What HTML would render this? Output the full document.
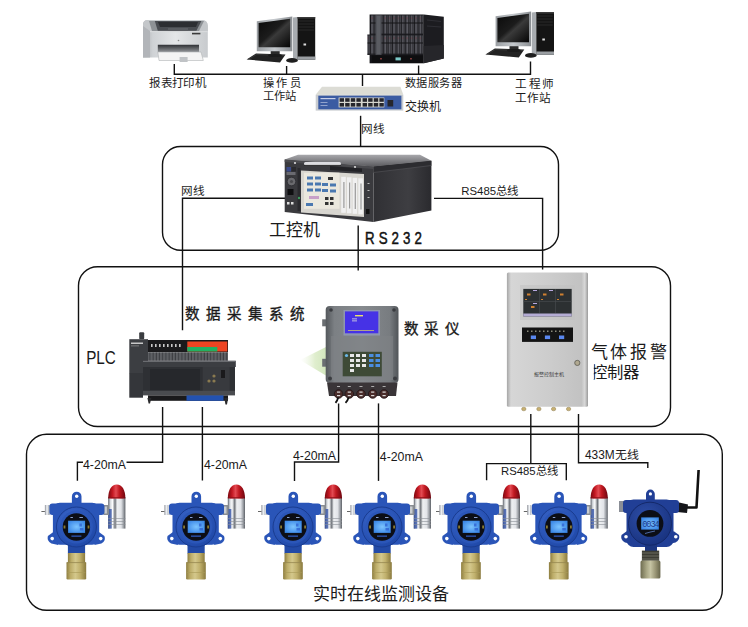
<!DOCTYPE html>
<html lang="zh-CN">
<head>
<meta charset="utf-8">
<style>
html,body{margin:0;padding:0;background:#fff;}
body{width:748px;height:627px;overflow:hidden;position:relative;font-family:"Liberation Sans",sans-serif;}
svg{position:absolute;left:0;top:0;}
.t{font-family:"Liberation Sans",sans-serif;fill:#1a1a1a;}
.s{font-family:"Liberation Serif",serif;fill:#111;font-weight:bold;}
</style>
</head>
<body>
<svg width="748" height="627" viewBox="0 0 748 627">
<defs>
  <linearGradient id="silver" x1="0" x2="1" y1="0" y2="0">
    <stop offset="0" stop-color="#7d8088"/><stop offset="0.2" stop-color="#c8ccd2"/>
    <stop offset="0.45" stop-color="#f4f6f8"/><stop offset="0.7" stop-color="#b4b8be"/>
    <stop offset="0.85" stop-color="#e0e2e6"/><stop offset="1" stop-color="#80848a"/>
  </linearGradient>
  <linearGradient id="brass" x1="0" x2="1" y1="0" y2="0">
    <stop offset="0" stop-color="#8e7e40"/><stop offset="0.2" stop-color="#bcac68"/>
    <stop offset="0.45" stop-color="#d4c88c"/><stop offset="0.7" stop-color="#c0b06c"/>
    <stop offset="1" stop-color="#8a7a3e"/>
  </linearGradient>
  <linearGradient id="brass2" x1="0" x2="1" y1="0" y2="0">
    <stop offset="0" stop-color="#6e6c50"/><stop offset="0.3" stop-color="#a8a684"/>
    <stop offset="0.5" stop-color="#c6c4a4"/><stop offset="0.75" stop-color="#9a9676"/>
    <stop offset="1" stop-color="#66644a"/>
  </linearGradient>
  <linearGradient id="chrome" x1="0" x2="1" y1="0" y2="0">
    <stop offset="0" stop-color="#5a5e66"/><stop offset="0.12" stop-color="#d4d8dc"/>
    <stop offset="0.25" stop-color="#fbfcfd"/><stop offset="0.4" stop-color="#70747a"/>
    <stop offset="0.52" stop-color="#eef0f2"/><stop offset="0.75" stop-color="#e2e4e8"/>
    <stop offset="0.9" stop-color="#989ca2"/><stop offset="1" stop-color="#5c6066"/>
  </linearGradient>
  <linearGradient id="redl" x1="0" x2="1" y1="0" y2="0">
    <stop offset="0" stop-color="#7a0810"/><stop offset="0.25" stop-color="#c41822"/>
    <stop offset="0.45" stop-color="#e24a52"/><stop offset="0.65" stop-color="#c01820"/>
    <stop offset="1" stop-color="#6e0610"/>
  </linearGradient>
  <radialGradient id="red" cx="0.4" cy="0.35" r="0.7">
    <stop offset="0" stop-color="#ff6a6a"/><stop offset="0.35" stop-color="#e0141c"/>
    <stop offset="1" stop-color="#8a0008"/>
  </radialGradient>
  <radialGradient id="lcd" cx="0.5" cy="0.5" r="0.6">
    <stop offset="0" stop-color="#7cc4ff"/><stop offset="1" stop-color="#3a86e6"/>
  </radialGradient>
  <radialGradient id="lid" cx="0.4" cy="0.35" r="0.7">
    <stop offset="0" stop-color="#3e6ad0"/><stop offset="1" stop-color="#1e47a6"/>
  </radialGradient>
  <radialGradient id="lid2" cx="0.4" cy="0.35" r="0.7">
    <stop offset="0" stop-color="#2e4ea8"/><stop offset="1" stop-color="#18327e"/>
  </radialGradient>
  
  <linearGradient id="mon" x1="0" x2="1" y1="0" y2="1">
    <stop offset="0" stop-color="#0a0a0a"/><stop offset="0.45" stop-color="#1c1c1c"/>
    <stop offset="0.55" stop-color="#3a3a3a"/><stop offset="1" stop-color="#050505"/>
  </linearGradient>
  <linearGradient id="bezel" x1="0" x2="1" y1="0" y2="0">
    <stop offset="0" stop-color="#9a9ea2"/><stop offset="0.5" stop-color="#c4c8cc"/><stop offset="1" stop-color="#8a8e92"/>
  </linearGradient>
  <linearGradient id="ptop" x1="0" x2="0" y1="0" y2="1">
    <stop offset="0" stop-color="#e8eaec"/><stop offset="1" stop-color="#c6c9cc"/>
  </linearGradient>
  <linearGradient id="pfront" x1="0" x2="1" y1="0" y2="0">
    <stop offset="0" stop-color="#a8abae"/><stop offset="0.15" stop-color="#cfd2d5"/>
    <stop offset="0.5" stop-color="#e4e6e8"/><stop offset="1" stop-color="#c8cbce"/>
  </linearGradient>
  <linearGradient id="ctrl" x1="0" x2="1" y1="0" y2="0">
    <stop offset="0" stop-color="#a6a6a6"/><stop offset="0.05" stop-color="#d6d6d6"/>
    <stop offset="0.5" stop-color="#cdcdcd"/><stop offset="0.92" stop-color="#c2c2c2"/>
    <stop offset="0.96" stop-color="#d8d8d8"/><stop offset="1" stop-color="#9a9a9a"/>
  </linearGradient>
  <linearGradient id="ipctop" x1="0" x2="0" y1="0" y2="1">
    <stop offset="0" stop-color="#a8a8ac"/><stop offset="1" stop-color="#5a5a5e"/>
  </linearGradient>
  <linearGradient id="ipcside" x1="0" x2="1" y1="0" y2="0">
    <stop offset="0" stop-color="#303034"/><stop offset="0.6" stop-color="#3e3e42"/><stop offset="1" stop-color="#2a2a2e"/>
  </linearGradient>
  <linearGradient id="dl" x1="0" x2="1" y1="0" y2="0">
    <stop offset="0" stop-color="#54585c"/><stop offset="0.12" stop-color="#7c8084"/>
    <stop offset="0.5" stop-color="#868a8e"/><stop offset="0.88" stop-color="#787c80"/><stop offset="1" stop-color="#505458"/>
  </linearGradient>
  <linearGradient id="fan" x1="0" x2="1" y1="0" y2="0">
    <stop offset="0" stop-color="#eef6e4" stop-opacity="0"/><stop offset="0.5" stop-color="#dcecc8"/><stop offset="1" stop-color="#c8e0b0"/>
  </linearGradient>
  <pattern id="blades" x="371" y="14.5" width="4.4" height="20" patternUnits="userSpaceOnUse">
    <rect width="4.4" height="20" fill="#1c1c20"/>
    <rect x="0.3" y="0.8" width="1.3" height="18.4" fill="#66666e"/>
    <rect x="2.3" y="0.8" width="1.1" height="18.4" fill="#48484e"/>
    <rect x="0" y="8" width="4.4" height="1" fill="#141416"/>
    <rect x="0.3" y="3" width="1.3" height="1.2" fill="#6a4048"/>
  </pattern>
  <pattern id="ribs" x="0" y="0" width="3.2" height="10" patternUnits="userSpaceOnUse">
    <rect width="3.2" height="10" fill="#5e6064"/>
    <rect x="2.2" width="1" height="10" fill="#3a3c40"/>
  </pattern>
  <g id="pc">
    <!-- keyboard -->
    <path d="M246.6 59.5L256 53.5L285.5 54.5L280 62.5Z" fill="#222"/>
    <path d="M248 59.5L256.5 54.5L284 55.5" fill="none" stroke="#444" stroke-width="0.6"/>
    <!-- stand -->
    <rect x="270.7" y="50" width="9" height="5" fill="#2a2a2a"/>
    <ellipse cx="275" cy="55.5" rx="7" ry="1.6" fill="#1a1a1a"/>
    <!-- monitor -->
    <path d="M256.8 21.2L292.3 16.4V51.3H256.8Z" fill="url(#bezel)"/>
    <path d="M258.6 23L290.2 18.8V47.2H258.6Z" fill="url(#mon)"/>
    <!-- tower -->
    <path d="M293 17.5L297.5 17V60L293 59Z" fill="#a8acb0"/>
    <rect x="297.5" y="17" width="17.7" height="42.8" fill="#141414"/>
    <rect x="297.5" y="17" width="17.7" height="1.6" fill="#3a3a3a"/>
    <path d="M298.5 21H314M298.5 24H314M298.5 27H314M298.5 30H314" stroke="#2e2e2e" stroke-width="0.8"/>
    <rect x="297.5" y="56.5" width="17.7" height="3.3" fill="#9a9ea2"/>
    <rect x="303.5" y="43.5" width="2.6" height="2" fill="#ddd"/>
    <!-- mouse -->
    <ellipse cx="292" cy="60.4" rx="5.8" ry="2.4" fill="#1e1e1e"/>
  </g>
  <g id="det">
    <!-- alarm light -->
    <rect x="31.8" y="497" width="17.2" height="31.6" fill="url(#chrome)"/>
    <rect x="31.8" y="509" width="3.5" height="19.6" fill="#2c4ca4" opacity="0.75"/>
    <path d="M31.8 498.5C31.8 490 35 484.4 40.4 484.4C45.8 484.4 49 490 49 498.5Z" fill="url(#redl)"/>
    <path d="M34 497.8H47" stroke="#8a1018" stroke-width="1"/>
    <path d="M31.8 518.5H49M31.8 521.5H49M31.8 524.5H49" stroke="#8a8e96" stroke-width="0.6"/>
    <!-- connector & gland -->
    <rect x="27" y="505" width="5.5" height="10" fill="#8a8e92"/><rect x="28" y="506.5" width="2.5" height="7" fill="#c8ccd0"/>
    <rect x="-31.5" y="505" width="5" height="10" fill="url(#silver)"/>
    <path d="M-35 511.5H-31.5" stroke="#666" stroke-width="1"/>
    <!-- body -->
    <path d="M-4.5 504V496.5A4.8 4.8 0 0 1 5.1 496.5V504Z" fill="#2a55b8"/>
    <circle cx="0.3" cy="496.3" r="1.7" fill="#fff"/>
    <rect x="-27" y="503.5" width="55" height="11.5" rx="3" fill="#2a55b8"/>
    <rect x="-23.5" y="502.8" width="46.3" height="42" rx="7" fill="#2a55b8"/>
    <path d="M-23 532L-28.5 536Q-30 541 -25 543.5L-18 545Z" fill="#2a55b8"/>
    <path d="M22.5 532L28 536Q30 541 25 543.5L18 545Z" fill="#2a55b8"/>
    <circle cx="-24.2" cy="538.6" r="1.8" fill="#fff"/>
    <circle cx="24.3" cy="538.6" r="1.8" fill="#fff"/>
    <rect x="-8.5" y="542" width="17.2" height="11.5" fill="#234aa6"/>
    <circle cx="0" cy="527" r="20" fill="url(#lid)" stroke="#1a3c90" stroke-width="1"/>
    <circle cx="0" cy="527" r="16.5" fill="#2b56b8"/>
    <circle cx="0" cy="527" r="13.7" fill="#0c0e16"/>
    <rect x="-8.3" y="520.7" width="17" height="12.2" fill="url(#lcd)"/>
    <rect x="-5" y="535.5" width="10" height="1.3" fill="#2d58b8"/>
    <rect x="-12.8" y="525.5" width="1.8" height="3" fill="#8a7a30"/><rect x="11.2" y="525.5" width="1.8" height="3" fill="#8a7a30"/>
    <rect x="3" y="523.5" width="2.5" height="3" fill="#2a5ad0" opacity="0.7"/><rect x="3.5" y="528" width="3.5" height="2.5" fill="#2a5ad0" opacity="0.7"/>
    <rect x="-6" y="517" width="2.5" height="1" fill="#8aa0d0"/>
    <rect x="3" y="517" width="3.5" height="1" fill="#8aa0d0"/>
    <!-- brass sensor -->
    <rect x="-8.5" y="553" width="17.2" height="9.5" fill="url(#brass)"/>
    <rect x="-9.9" y="562.2" width="19.7" height="17.3" rx="1.2" fill="url(#brass)"/>
    <path d="M-9.9 562.6H9.8" stroke="#8a7a40" stroke-width="0.7"/>
    <path d="M-9 572.5H9" stroke="#a89858" stroke-width="0.6"/>
  </g>
  <g id="wdet">
    <!-- antenna -->
    <path d="M684 507.5H696.5L698.6 470" fill="none" stroke="#111" stroke-width="2.6" stroke-linejoin="round"/>
    <path d="M677 502L688 504.5L687 513L677 512Z" fill="#15161a"/>
    <rect x="619" y="501" width="6" height="11" fill="#8a8e96"/>
    <path d="M646 501V494A4.4 4.4 0 0 1 654.8 494V501Z" fill="#213f96"/>
    <circle cx="650.4" cy="493.9" r="1.6" fill="#fff"/>
    <rect x="623" y="500" width="56" height="13" rx="3" fill="#213f96"/>
    <rect x="626.5" y="499.5" width="47" height="47.5" rx="7" fill="#213f96"/>
    <path d="M627 531L621.5 535Q620 540 625 542.5L632 544Z" fill="#213f96"/>
    <path d="M673.5 531L679 535Q680.5 540 675.5 542.5L668.5 544Z" fill="#213f96"/>
    <circle cx="626" cy="536.7" r="1.8" fill="#fff"/>
    <circle cx="675.8" cy="536.7" r="1.8" fill="#fff"/>
    <rect x="645" y="544" width="12" height="7" fill="#1c3680"/>
    <circle cx="650" cy="523.7" r="21.5" fill="url(#lid2)" stroke="#14296a" stroke-width="1"/>
    <circle cx="650" cy="523.4" r="13.4" fill="#0c0e16"/>
    <rect x="641.2" y="517.4" width="17.6" height="12.2" fill="url(#lcd)"/>
    <text x="642.3" y="527.2" font-family="Liberation Mono" font-size="8.6" fill="#1a3a8a" letter-spacing="-1.1">0034</text>
    <path d="M645 533.5Q650 532 655 531" stroke="#6a90e0" stroke-width="0.7" fill="none"/>
    <rect x="641.9" y="550.6" width="17.3" height="10.2" fill="#3c3c34"/>
    <path d="M642 553H659M642 556H659M642 559H659" stroke="#77766a" stroke-width="0.8"/>
    <rect x="640.5" y="560.6" width="19.9" height="18" rx="1.5" fill="url(#brass2)"/>
  </g>
</defs>
<g>
  <use href="#det" x="76.4"/>
  <use href="#det" x="196"/>
  <use href="#det" x="293"/>
  <use href="#det" x="382"/>
  <use href="#det" x="471"/>
  <use href="#det" x="558.8"/>
  <use href="#wdet"/>
</g>
<g fill="none" stroke="#111" stroke-width="1.4">
  <!-- boxes -->
  <rect x="162.5" y="146.5" width="396" height="103.7" rx="18" ry="18"/>
  <rect x="78.5" y="266.7" width="592" height="159.8" rx="19" ry="19"/>
  <rect x="26.5" y="434.3" width="695.8" height="176" rx="20" ry="20"/>
  <!-- top network -->
  <path d="M174.3 64V74.2H530.5V61.4"/>
  <path d="M286.6 66V74.2"/>
  <path d="M418.6 65.5V74.2"/>
  <path d="M362.5 74.2V86"/>
  <path d="M360.6 115.8V146.5"/>
  <!-- box1 internal -->
  <path d="M285.6 198.2H182.5V330.2"/>
  <path d="M434 198.4H542.6V269.5"/>
  <path d="M358.2 225.6V270.5"/>
  <!-- box2 -> box3 -->
  <path d="M162.6 407V462.3H77.4V480.7"/>
  <path d="M202.4 407V480.5"/>
  <path d="M338.6 403.4V462H294.5V480.9"/>
  <path d="M378.5 403.4V480.9"/>
  <path d="M530.8 414V463.6"/>
  <path d="M486.6 480.2V463.6H566.3V480.2"/>
  <path d="M578.5 414V462.8H647.8V468"/>
</g>
<!-- top devices -->
<g id="printer">
  <linearGradient id="pslot" x1="0" x2="0" y1="0" y2="1">
    <stop offset="0" stop-color="#2e3034"/><stop offset="1" stop-color="#9a9da0"/>
  </linearGradient>
  <path d="M143 25Q143 20.5 147 20.3L203 20.3Q207.5 20.6 207.8 26V57.6H143Z" fill="url(#pfront)"/>
  <path d="M143 25Q143 20.5 147 20.3L203 20.3Q207.5 20.6 207.8 26V31H143Z" fill="#c4c7ca"/>
  <path d="M149 21L204 21L199 31L152 31Z" fill="#8e9296"/>
  <path d="M154.8 21L201.4 21L196.4 30.8L157.8 30.8Z" fill="#4a4d52"/>
  <path d="M158 22H198L196 27H160Z" fill="#2c2e32"/>
  <rect x="168" y="28" width="20" height="2.8" fill="#5a5d62"/>
  <rect x="143" y="31" width="64.8" height="1.2" fill="#d8dadc"/>
  <rect x="192" y="32.8" width="8.4" height="1.6" fill="#3a3a3a"/>
  <path d="M143 26V57.6H150V31Z" fill="#b2b5b9"/>
  <path d="M157.8 44.7H199V52.6H157.8Z" fill="url(#pslot)"/>
  <path d="M157.8 52H201L203.3 60.5H159Z" fill="#f4f4f4" stroke="#b0b3b6" stroke-width="0.6"/>
  <rect x="179.6" y="57" width="8" height="5" fill="#c0c3c6"/>
  <circle cx="178.5" cy="40.5" r="0.8" fill="#888"/>
</g>
<use href="#pc"/>
<use href="#pc" x="238.8" y="-5"/>
<g id="server">
  <path d="M423.8 14.5L443.8 16.8V58.6L423.8 63.3Z" fill="#1c1c20"/>
  <path d="M423.8 46L443.8 45V58.6L423.8 63.3Z" fill="#26262a"/>
  <path d="M427 20L441 21.5M427 26L441 27" stroke="#34343a" stroke-width="0.8"/>
  <rect x="369.6" y="14.5" width="54.2" height="48.8" fill="#141418"/>
  <rect x="371" y="15" width="52" height="19.5" fill="url(#blades)"/>
  <rect x="371" y="35" width="52" height="19.5" fill="url(#blades)"/>
  <rect x="367.3" y="34.5" width="8" height="20.5" fill="url(#blades)"/>
  <rect x="375.5" y="15" width="6" height="40" fill="#46484e"/>
  <rect x="376.5" y="16" width="4" height="38" fill="#5a5c62"/>
  <rect x="372" y="55.5" width="51" height="7.5" fill="#0e0e10"/>
  <rect x="395.5" y="57.4" width="5.3" height="3" fill="#7cc8c8"/>
  <rect x="380" y="58" width="2" height="1.5" fill="#7a3838"/>
  <rect x="410" y="58" width="2" height="1.5" fill="#7a3838"/>
</g>
<g id="switch">
  <path d="M322 86.8H400.4L403.3 94.7H315.7Z" fill="#dcdcd5"/>
  <rect x="315.7" y="94.7" width="87.6" height="15.9" fill="#c9ccd0"/>
  <rect x="318.3" y="95.7" width="83.1" height="13.6" fill="#3b5ba2"/>
  <rect x="338.6" y="97.5" width="45.7" height="9.9" fill="#d6d6cf"/>
  <g fill="#26262c">
    <rect x="339.6" y="98.2" width="4.4" height="3.6"/><rect x="345.2" y="98.2" width="4.4" height="3.6"/>
    <rect x="350.8" y="98.2" width="4.4" height="3.6"/><rect x="356.4" y="98.2" width="4.4" height="3.6"/>
    <rect x="362.6" y="98.2" width="4.4" height="3.6"/><rect x="368.2" y="98.2" width="4.4" height="3.6"/>
    <rect x="373.8" y="98.2" width="4.4" height="3.6"/><rect x="379.4" y="98.2" width="4.4" height="3.6"/>
    <rect x="339.6" y="103" width="4.4" height="3.6"/><rect x="345.2" y="103" width="4.4" height="3.6"/>
    <rect x="350.8" y="103" width="4.4" height="3.6"/><rect x="356.4" y="103" width="4.4" height="3.6"/>
    <rect x="362.6" y="103" width="4.4" height="3.6"/><rect x="368.2" y="103" width="4.4" height="3.6"/>
    <rect x="373.8" y="103" width="4.4" height="3.6"/><rect x="379.4" y="103" width="4.4" height="3.6"/>
    <rect x="387.5" y="100" width="5.7" height="6.5"/>
  </g>
  <rect x="320.5" y="98" width="15" height="1.2" fill="#c8d0e8"/>
  <rect x="320.5" y="102" width="7" height="0.8" fill="#a8b4d8"/>
  <rect x="320.5" y="105" width="7" height="0.8" fill="#a8b4d8"/>
</g>
<!-- IPC -->
<g id="ipc">
  <path d="M284.7 159.4L298 154.8H420L431.4 160.8L373.4 166.5Z" fill="url(#ipctop)"/>
    <path d="M373.4 166.5L431.4 160.8V210.5L373.4 222Z" fill="url(#ipcside)"/>
  <path d="M373.4 166.5L431.4 160.8V165.5L373.4 172.5Z" fill="#2c2c30"/>
  <path d="M373.4 172.5L431.4 165.5" stroke="#505054" stroke-width="0.7"/>
  <path d="M284.7 159.4L373.4 166.5V222L284.7 212Z" fill="#3a3a3e"/>
  <path d="M284.7 159.4L373.4 166.5V169L284.7 162Z" fill="#4a4a4e"/>
  <rect x="304" y="162" width="37" height="3.2" rx="1.5" fill="#dcdce0"/>
  <path d="M304 165.4H341" stroke="#222" stroke-width="0.8"/>
  <circle cx="295" cy="163" r="1.1" fill="#ddd"/><circle cx="355" cy="167" r="1.1" fill="#ddd"/>
  <path d="M330 166L362 168.5V172L330 170Z" fill="#222226"/>
  <path d="M301 170.5L364 174V217L301 212.5Z" fill="#d8d6d0"/>
  <rect x="304" y="172.7" width="35.5" height="36.1" fill="#ebe8de"/>
  <g fill="#4a78b0">
    <rect x="307" y="176.5" width="6" height="3"/><rect x="315" y="176.5" width="6" height="3"/>
    <rect x="307" y="182.5" width="6" height="3"/><rect x="315" y="182.5" width="6" height="3"/><rect x="322" y="183" width="6" height="3"/><rect x="330" y="183.5" width="6" height="3"/>
    <rect x="307" y="188.5" width="6" height="3"/><rect x="315" y="188.5" width="6" height="3"/><rect x="322" y="189" width="6" height="3"/><rect x="330" y="189.5" width="6" height="3"/>
    <rect x="306" y="203" width="7" height="3"/>
  </g>
  <rect x="309" y="196" width="10" height="3" fill="#c8a0c8"/>
  <g fill="#333"><rect x="325" y="197" width="3.5" height="3"/><rect x="330" y="197" width="3.5" height="3"/><rect x="325" y="202" width="3.5" height="3"/><rect x="330" y="202" width="3.5" height="3"/><rect x="328" y="177" width="5" height="3"/></g>
  <g fill="#f0f0f0">
    <rect x="341.2" y="176.8" width="4.6" height="36"/><rect x="346.9" y="177.3" width="4.6" height="36"/>
    <rect x="352.6" y="177.8" width="4.6" height="36"/><rect x="358.3" y="178.3" width="4.6" height="36"/>
  </g>
  <g fill="#9a9a9a"><rect x="343.3" y="182" width="1.2" height="26"/><rect x="349" y="182.5" width="1.2" height="26"/><rect x="354.7" y="183" width="1.2" height="26"/><rect x="360.4" y="183.5" width="1.2" height="26"/></g>
  <rect x="286.5" y="167" width="4.5" height="4.5" fill="#3a4a8a"/><rect x="291.5" y="167" width="4.5" height="4.5" fill="#2a2a2e"/>
  <rect x="286.5" y="172" width="9" height="3" fill="#6a6a70"/>
  <circle cx="291.5" cy="181.5" r="4.3" fill="#6a6a6e" stroke="#2a2a2e" stroke-width="0.8"/>
  <circle cx="291.5" cy="181.5" r="1.6" fill="#4a4a4e"/>
  <rect x="287.5" y="189" width="6" height="6" fill="#0e0e10"/>
  <rect x="287" y="202" width="2.5" height="2.5" fill="#ddd"/><rect x="291" y="202" width="2.5" height="2.5" fill="#ddd"/>
  <rect x="297.5" y="168" width="3" height="43" fill="#2a2a2e"/>
  <circle cx="299" cy="198" r="1.2" fill="#3a9a5a"/>
  <rect x="366" y="209" width="3.5" height="5" fill="#111"/>
  <rect x="367.5" y="183" width="2" height="1" fill="#bbb"/><rect x="367.5" y="190" width="2" height="1" fill="#bbb"/><rect x="367.5" y="197" width="2" height="1" fill="#bbb"/>
</g>
<!-- PLC -->
<g id="plc">
  <rect x="139.2" y="332.3" width="5" height="7" rx="1" fill="#3a3c40"/>
  <rect x="129.3" y="339.2" width="18.7" height="34" fill="#3c3e42"/>
  <rect x="129.3" y="373" width="13.7" height="24.7" fill="#34363a"/>
  <rect x="131" y="342.5" width="12" height="1.5" fill="#c8c8c8"/>
  <rect x="131" y="345.5" width="8" height="0.8" fill="#8a8a8a"/>
  <rect x="148" y="340" width="80" height="12.3" fill="#1a1a1c"/>
  <g fill="#c8c8c8"><rect x="151" y="344" width="1.6" height="3"/><rect x="155" y="344" width="1.6" height="3"/><rect x="159" y="344" width="1.6" height="3"/><rect x="163" y="344" width="1.6" height="3"/><rect x="167" y="344" width="1.6" height="3"/><rect x="171" y="344" width="1.6" height="3"/><rect x="175" y="344" width="1.6" height="3"/><rect x="179" y="344" width="1.6" height="3"/></g>
  <rect x="187.3" y="341.5" width="40" height="10" fill="#ee4422"/>
  <rect x="187.3" y="347" width="30" height="4.5" fill="#22b062"/>
  <rect x="148" y="352.3" width="80" height="8.5" fill="url(#ribs)"/>
  <rect x="143" y="360.8" width="92.8" height="6.2" fill="#3c3e42"/>
  <rect x="143" y="360.8" width="92.8" height="1.2" fill="#6a6c70"/>
  <rect x="143" y="367" width="92" height="24.5" fill="#2e3034"/>
  <rect x="150" y="369" width="50" height="21" fill="#26282c"/>
  <rect x="202.7" y="367" width="27" height="24.5" fill="#383a3e"/>
  <circle cx="214" cy="376" r="1.6" fill="#8a7a50"/><circle cx="209" cy="381" r="1.6" fill="#8a7a50"/><circle cx="214" cy="381" r="1.6" fill="#8a7a50"/>
  <rect x="221" y="370" width="4" height="8" fill="#1a1a1c"/>
  <rect x="143" y="390.8" width="92" height="4.6" fill="#4a4c50"/>
  <rect x="148" y="395.4" width="80" height="5.4" fill="#1a1a1c"/>
  <rect x="186.5" y="395.4" width="37" height="5.4" fill="#2352b0"/>
  <path d="M147.4 398H151.4L150 403.4H148.6Z" fill="#2a2a2c"/><path d="M224.2 398H228.2L227 404.6H225.5Z" fill="#2a2a2c"/>
</g>
<!-- data logger -->
<g id="dlog">
  <path d="M300 360L330 345V378Z" fill="url(#fan)" opacity="0.9"/>
  <rect x="322.2" y="319.3" width="4.5" height="7" fill="#6a6e72"/>
  <rect x="322.2" y="358.8" width="4.5" height="7.9" fill="#6a6e72"/>
  <rect x="325.7" y="306.1" width="72.8" height="77" rx="4" fill="url(#dl)"/>
  <rect x="331" y="336" width="62" height="44" fill="#7e8286" opacity="0.6"/>
  <rect x="343.5" y="310" width="36.5" height="25.5" fill="#8e96b0"/>
  <rect x="345" y="311.4" width="33.3" height="21.9" fill="#4632e6"/>
  <rect x="355" y="315" width="8" height="1.4" fill="#e8e070"/>
  <rect x="352" y="318.5" width="5" height="0.8" fill="#ddd"/><rect x="352" y="320.5" width="5" height="0.8" fill="#ddd"/>
  <rect x="348" y="330" width="26" height="0.8" fill="#c8c070"/>
  <rect x="342.7" y="351.8" width="39.1" height="24.5" fill="#3e4a36"/>
  <circle cx="346.5" cy="355.5" r="1.6" fill="#6ab8e8"/>
  <g fill="#e8e8e8">
    <rect x="350" y="354" width="4" height="3"/><rect x="356" y="354" width="4" height="3"/><rect x="362" y="354" width="4" height="3"/>
    <rect x="350" y="359" width="4" height="3"/><rect x="356" y="359" width="4" height="3"/><rect x="362" y="359" width="4" height="3"/>
    <rect x="350" y="364" width="4" height="3"/><rect x="356" y="364" width="4" height="3"/><rect x="362" y="364" width="4" height="3"/>
    <rect x="350" y="369" width="4" height="3"/>
  </g>
  <g fill="#4a8ee0">
    <rect x="369" y="354" width="4.5" height="3"/><rect x="375.5" y="354" width="4.5" height="3"/>
    <rect x="369" y="359" width="4.5" height="3"/><rect x="375.5" y="359" width="4.5" height="3"/>
    <rect x="369" y="364" width="4.5" height="3"/><rect x="375.5" y="364" width="4.5" height="3"/>
  </g>
  <g fill="#3a3c40"><circle cx="331" cy="310" r="1.8"/><circle cx="394" cy="310" r="1.8"/><circle cx="330" cy="378.5" r="2"/><circle cx="395" cy="378.5" r="2"/></g>
  <path d="M327 382.5H397.5L396 396H329Z" fill="#3a3538"/>
  <g fill="#4a2c2a" stroke="#221416" stroke-width="0.8">
    <circle cx="338.6" cy="394" r="4.3"/><circle cx="349.3" cy="394" r="4.3"/><circle cx="361" cy="394" r="4.3"/><circle cx="372.7" cy="394" r="4.3"/><circle cx="384.1" cy="394" r="4.3"/>
  </g>
  <g fill="#d8d8d8"><rect x="337" y="391.5" width="3.2" height="1.2"/><rect x="347.7" y="391.5" width="3.2" height="1.2"/><rect x="359.4" y="391.5" width="3.2" height="1.2"/><rect x="371.1" y="391.5" width="3.2" height="1.2"/><rect x="382.5" y="391.5" width="3.2" height="1.2"/>
  <rect x="337" y="395" width="3.2" height="1.2"/><rect x="347.7" y="395" width="3.2" height="1.2"/><rect x="359.4" y="395" width="3.2" height="1.2"/><rect x="371.1" y="395" width="3.2" height="1.2"/><rect x="382.5" y="395" width="3.2" height="1.2"/></g>
  <path d="M338.2 397.5Q337.5 400.5 335.5 402.8M348.6 397.5Q347.8 400.5 345.5 402.8" stroke="#111" stroke-width="1.8" fill="none"/>
  <g fill="#ccc"><rect x="337" y="386" width="3" height="0.8"/><rect x="347.8" y="386" width="3" height="0.8"/><rect x="359.5" y="386" width="3" height="0.8"/><rect x="371.2" y="386" width="3" height="0.8"/><rect x="382.6" y="386" width="3" height="0.8"/></g>
</g>
<!-- alarm controller -->
<g id="ctrl">
  <rect x="506.9" y="272.6" width="81.1" height="134.2" rx="1.5" fill="url(#ctrl)"/>
  <rect x="520" y="285" width="55" height="35" fill="#c0c0c0" opacity="0.5"/>
  <rect x="523.3" y="288.9" width="48.4" height="27.5" fill="#2c3032"/>
  <rect x="523.3" y="313.5" width="48.4" height="2.9" fill="#b4acd4"/>
  <path d="M539.5 289V313M555.5 289V313M523.5 301.5H571.5" stroke="#4a4e50" stroke-width="0.6"/>
  <g fill="#d08030"><rect x="527" y="293.5" width="3.5" height="2"/><rect x="543" y="293.5" width="3.5" height="2"/><rect x="560" y="293.5" width="3.5" height="2"/><rect x="531" y="306" width="3.5" height="2"/>
  <rect x="525" y="299" width="2" height="1"/><rect x="541" y="299" width="2" height="1"/><rect x="557" y="299" width="2" height="1"/></g>
  <g fill="#b8a8e0"><rect x="533" y="290" width="4" height="1"/><rect x="549" y="290" width="4" height="1"/><rect x="533" y="303" width="4" height="1"/></g>
  <rect x="522" y="327.5" width="51" height="14.4" fill="#141414"/>
  <g fill="#5a88f0"><rect x="530.8" y="335.5" width="5.2" height="3.6"/><rect x="544.9" y="335.5" width="5.2" height="3.6"/><rect x="559" y="335.5" width="5.2" height="3.6"/></g>
  <g fill="#8a8a7a"><rect x="527" y="330.5" width="1.5" height="1.5"/><rect x="531" y="330.5" width="1.5" height="1.5"/><rect x="535" y="330.5" width="1.5" height="1.5"/><rect x="539" y="330.5" width="1.5" height="1.5"/><rect x="543" y="330.5" width="1.5" height="1.5"/><rect x="547" y="330.5" width="1.5" height="1.5"/><rect x="551" y="330.5" width="1.5" height="1.5"/><rect x="555" y="330.5" width="1.5" height="1.5"/><rect x="559" y="330.5" width="1.5" height="1.5"/><rect x="563" y="330.5" width="1.5" height="1.5"/></g>
  <circle cx="577.3" cy="362.9" r="2.6" fill="#b0a890" stroke="#5a5a52" stroke-width="0.8"/>
  <text x="533.5" y="376" font-family="Liberation Serif" font-size="5" fill="#3a3a3a">报警控制主机</text>
  <g fill="#c8b070" stroke="#8a7a50" stroke-width="0.5"><ellipse cx="523.8" cy="409" rx="2.2" ry="1.8"/><ellipse cx="538.9" cy="409" rx="2.2" ry="1.8"/><ellipse cx="553.6" cy="409" rx="2.2" ry="1.8"/><ellipse cx="568.6" cy="409" rx="2.2" ry="1.8"/></g>
</g>
<!-- text -->
<g class="t" font-size="11.6">
  <text x="149.2" y="87.2" font-size="11.5" letter-spacing="0.35">报表打印机</text>
  <text x="262.6" y="87.2" font-size="11.2" letter-spacing="2.5">操作员</text>
  <text x="262.6" y="99.9" font-size="11.3">工作站</text>
  <text x="404.6" y="87" font-size="11.2" letter-spacing="0.5">数据服务器</text>
  <text x="515.3" y="88.4" letter-spacing="1.4">工程师</text>
  <text x="515.3" y="102">工作站</text>
  <text x="404.6" y="111" font-size="12">交换机</text>
  <text x="361.3" y="133.3">网线</text>
  <text x="181" y="195.3">网线</text>
  <text x="461.3" y="194.6" font-size="11.4">RS485总线</text>
</g>
<text class="t" x="268.8" y="235.6" font-size="17">工控机</text>
<text transform="translate(365 243.9) scale(0.81 1)" x="0" y="0" font-size="16.4" letter-spacing="5" font-family="Liberation Sans" fill="#111" stroke="#111" stroke-width="0.5">RS232</text>
<g class="t" font-size="14.5" stroke="#1a1a1a" stroke-width="0.35">
  <text x="185.3" y="318.6" letter-spacing="6.9">数据采集系统</text>
  <text x="403.6" y="333.8" letter-spacing="6.7">数采仪</text>
</g>
<text class="t" x="86.2" y="364.3" font-size="17.9" textLength="29.6" lengthAdjust="spacingAndGlyphs">PLC</text>
<text class="t" x="590.6" y="357.8" font-size="17" letter-spacing="2.9">气体报警</text>
<text class="t" x="590.6" y="377.8" font-size="16.4" letter-spacing="0.1">控制器</text>
<rect x="588.9" y="361" width="4.9" height="20" fill="#fff"/>
<g class="t" font-size="12.3">
  <rect x="83" y="457" width="43.5" height="12" fill="#fff"/>
  <text x="83" y="468.7">4-20mA</text>
  <text x="204" y="468.9">4-20mA</text>
  <text x="293" y="460.3">4-20mA</text>
  <text x="379.8" y="460.6">4-20mA</text>
  <text x="501" y="474.9" font-size="11.3">RS485总线</text>
  <text x="585" y="459.4" font-size="11.9">433M无线</text>
</g>
<text class="t" x="312.8" y="599.8" font-size="17">实时在线监测设备</text>
</svg>
</body>
</html>
